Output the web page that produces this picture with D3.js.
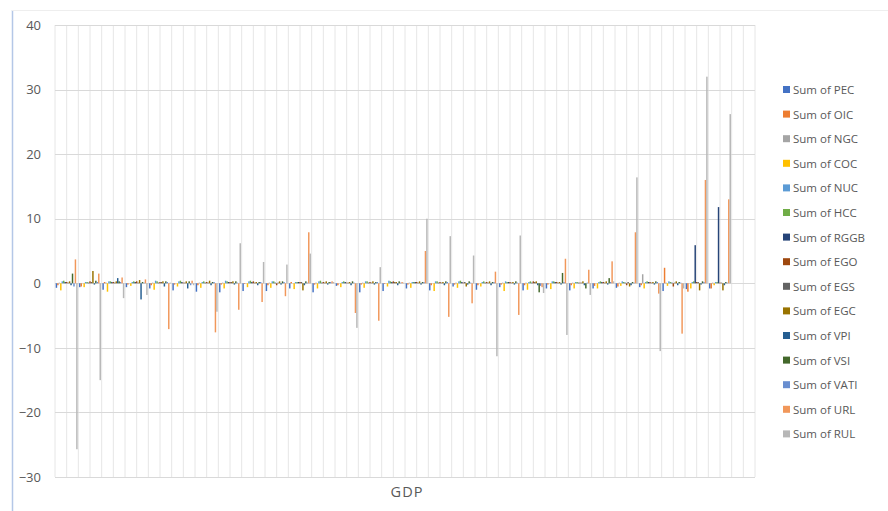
<!DOCTYPE html>
<html>
<head>
<meta charset="utf-8">
<script src="https://cdn.jsdelivr.net/npm/d3@7"></script>
<style>
  html, body { margin: 0; padding: 0; background: #ffffff; }
  svg { display: block; }
  text { font-family: "Open Sans", "Segoe UI", sans-serif; fill: #595959; }
</style>
</head>
<body>
<svg id="chart" width="888" height="511"></svg>
<script>
// ---- Data ----
const categories = ["1","2","3","4","5","6","7","8","9","10","11","12","13","14","15",
  "16","17","18","19","20","21","22","23","24","25","26","27","28","29","(blank)"];

const seriesNames = ["Sum of PEC","Sum of OIC","Sum of NGC","Sum of COC","Sum of NUC",
  "Sum of HCC","Sum of RGGB","Sum of EGO","Sum of EGS","Sum of EGC","Sum of VPI",
  "Sum of VSI","Sum of VATI","Sum of URL","Sum of RUL"];

const PEC  = [-0.7,-0.6,-1.0,-0.6,-0.8,-1.1,-1.3,-1.4,-1.2,-1.2,-0.8,-1.4,-0.4,-1.4,-1.2,-0.8,-1.1,-0.5,-1.0,-0.6,-1.1,-0.8,-1.1,-0.8,-0.7,-0.6,-1.2,-0.9,-0.8];
const OIC  = [-0.3,-0.5,0.2,-0.2,-0.3,-0.2,-0.3,-0.2,-0.1,-0.3,0.2,-0.2,-0.3,-0.2,-0.1,-0.2,-0.3,-0.2,-0.3,-0.2,-0.3,-0.2,-0.3,-0.4,-0.5,-0.3,2.4,-1.3,-0.8];
const NGC  = [0.1,0.0,0.1,0.0,0.1,0.0,0.1,0.1,0.0,0.1,0.0,0.1,0.0,0.1,0.0,0.1,0.0,0.1,0.0,0.1,0.1,0.0,0.1,0.0,0.1,1.4,0.1,0.0,0.1];
const COC  = [-1.1,-0.6,-1.3,-0.4,-1.0,-0.5,-0.7,-0.8,-0.6,-0.7,-0.9,-0.8,-0.6,-0.7,-0.5,-0.7,-1.2,-0.7,-0.5,-1.2,-1.0,-0.9,-0.8,-0.8,-0.4,-0.8,-0.4,-0.8,-0.3];
const NUC  = [0.3,0.2,0.3,0.2,0.4,0.3,0.2,0.4,0.3,0.3,0.2,0.3,0.2,0.3,0.4,0.2,0.3,0.3,0.2,0.3,0.2,0.3,0.2,0.2,0.3,0.2,0.3,0.2,0.2];
const HCC  = [0.4,0.2,0.3,0.3,0.3,0.4,0.3,0.3,0.4,0.3,0.2,0.4,0.3,0.3,0.3,0.2,0.3,0.4,0.3,0.2,0.3,0.3,0.2,0.3,0.2,0.3,0.2,0.3,0.2];
const RGGB = [0.2,0.1,0.2,0.2,0.1,0.2,0.1,0.2,0.2,0.1,0.2,0.1,0.2,0.1,0.2,0.2,0.1,0.2,0.1,0.2,0.1,0.2,0.1,0.2,0.1,0.2,0.1,5.9,11.8];
const EGO  = [0.2,0.3,0.2,0.3,0.2,0.1,0.2,0.2,0.3,-0.3,0.2,0.2,0.1,0.2,0.3,0.2,0.2,0.1,0.2,0.2,0.3,0.2,0.1,0.2,-0.3,0.2,-0.5,0.2,0.1];
const EGS  = [0.1,0.2,0.1,0.1,0.2,0.1,0.1,0.2,0.1,0.1,0.2,0.1,0.1,0.1,0.2,0.1,0.1,0.2,0.1,0.1,0.2,0.1,0.1,0.1,0.2,0.1,0.1,0.2,0.1];
const EGC  = [0.3,1.9,0.3,0.5,0.3,0.3,0.4,0.3,0.2,0.3,-1.1,0.3,0.2,0.3,0.2,0.3,0.2,-0.5,0.3,0.2,0.3,0.2,0.3,0.3,-0.5,0.2,0.3,-1.1,-1.1];
const VPI  = [-0.3,-0.2,0.8,-2.5,-0.5,-0.8,-0.3,-0.2,-0.3,-0.2,-0.3,-0.2,-0.3,-0.2,-0.3,-0.2,-0.3,-0.2,-0.3,-0.2,-0.3,-0.2,-0.3,-0.2,-0.3,-0.2,-0.3,-0.2,-0.3];
const VSI  = [1.5,0.4,0.3,0.2,0.3,0.3,0.2,0.3,0.2,0.3,0.3,0.2,0.3,0.2,0.3,0.2,0.3,0.3,0.2,0.3,-1.4,1.6,-0.8,0.8,0.2,0.3,0.2,0.3,0.2];
const VATI = [-0.5,0.2,0.2,0.1,0.2,-0.3,0.2,0.1,0.2,0.2,0.1,0.2,0.1,0.2,0.1,0.2,0.2,0.1,0.2,0.1,-0.4,0.2,0.1,0.2,0.1,0.2,0.1,0.2,0.1];
const URL  = [3.7,1.5,0.9,0.6,-7.1,0.4,-7.6,-4.1,-2.9,-2.0,7.9,0.3,-4.6,-5.8,0.2,5.0,-5.2,-3.1,1.8,-4.9,-0.6,3.8,2.1,3.4,7.9,-1.6,-7.8,16.0,13.0];
const RUL  = [-25.7,-15.0,-2.3,-1.8,0.1,-0.3,-4.4,6.2,3.3,2.9,4.6,0.2,-6.9,2.5,0.1,10.0,7.3,4.3,-11.3,7.4,-1.5,-8.0,-1.8,0.3,16.4,-10.5,-0.8,32.0,26.2];

const yTicks = [-30,-20,-10,0,10,20,30,40];
const xTitle = "GDP";

const colors = ["#4472C4","#ED7D31","#A5A5A5","#FFC000","#5B9BD5","#70AD47","#264478",
  "#9E480E","#636363","#997300","#255E91","#43682B","#698ED0","#F1975A","#B7B7B7"];

const seriesValues = [PEC,OIC,NGC,COC,NUC,HCC,RGGB,EGO,EGS,EGC,VPI,VSI,VATI,URL,RUL];

// ---- Layout ----
const svg = d3.select("#chart");
const plot = {left: 55, right: 755, top: 25, bottom: 477};

// chart area border
svg.append("line").attr("x1", 12.5).attr("x2", 12.5).attr("y1", 10).attr("y2", 511)
  .attr("stroke", "#b4c7e7").attr("stroke-width", 1.5);
svg.append("line").attr("x1", 12).attr("x2", 888).attr("y1", 10.5).attr("y2", 10.5)
  .attr("stroke", "#eeeeee").attr("stroke-width", 1);

const y = d3.scaleLinear().domain([-30, 40]).range([plot.bottom, plot.top]);
const x0 = d3.scaleBand().domain(categories).range([plot.left, plot.right]).paddingInner(0.06).paddingOuter(0.03);
const x1 = d3.scaleBand().domain(seriesNames).range([0, x0.bandwidth()]);

// vertical gridlines (every half category)
const bandStep = (plot.right - plot.left) / categories.length;
const vLines = d3.range(0, categories.length * 2 + 1).map(i => plot.left + i * bandStep / 2);
svg.append("g").selectAll("line").data(vLines).join("line")
  .attr("x1", d => d).attr("x2", d => d)
  .attr("y1", plot.top).attr("y2", plot.bottom)
  .attr("stroke", "#e6e6e6").attr("stroke-width", 1);

// horizontal gridlines
svg.append("g").selectAll("line").data(yTicks).join("line")
  .attr("x1", plot.left).attr("x2", plot.right)
  .attr("y1", d => Math.round(y(d)) + 0.5).attr("y2", d => Math.round(y(d)) + 0.5)
  .attr("stroke", "#d9d9d9").attr("stroke-width", 1);

// y axis labels
const yAxis = d3.axisLeft(y).tickValues(yTicks).tickSize(0).tickPadding(14).tickFormat(d3.format("d"));
const gy = svg.append("g").attr("transform", `translate(${plot.left},0)`).call(yAxis);
gy.select(".domain").remove();
gy.selectAll("text").style("font-size", "13px").style("fill", "#595959")
  .style("font-family", "'Open Sans', sans-serif");

// bars
const groups = svg.append("g").selectAll("g").data(categories.slice(0, PEC.length)).join("g")
  .attr("transform", d => `translate(${x0(d)},0)`);
groups.selectAll("rect")
  .data((d, i) => seriesNames.map((s, j) => ({s, j, v: seriesValues[j][i]})))
  .join("rect")
  .attr("x", d => x1(d.s))
  .attr("width", x1.bandwidth())
  .attr("y", d => Math.min(y(d.v), y(0)))
  .attr("height", d => Math.abs(y(d.v) - y(0)))
  .attr("fill", d => colors[d.j]);

// x title
svg.append("text").attr("x", 407).attr("y", 497).attr("text-anchor", "middle")
  .style("font-size", "14.5px").style("letter-spacing", "1px").text(xTitle);

// legend
const legend = svg.append("g").attr("transform", "translate(783,90)");
const li = legend.selectAll("g").data(seriesNames).join("g")
  .attr("transform", (d, i) => `translate(0,${i * 24.6})`);
li.append("rect").attr("x", 0).attr("y", -4).attr("width", 7).attr("height", 7)
  .attr("fill", (d, i) => colors[i]);
li.append("text").attr("x", 10).attr("y", 0).attr("dy", "0.35em")
  .style("font-size", "11.5px").text(d => d);
</script>
</body>
</html>
